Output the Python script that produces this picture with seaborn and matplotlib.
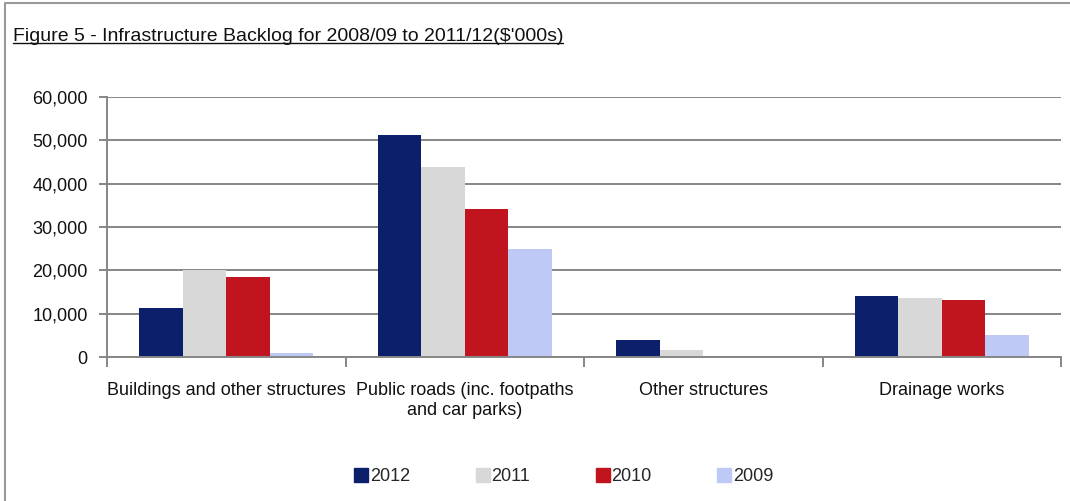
import matplotlib
matplotlib.use("Agg")
import matplotlib.pyplot as plt
from matplotlib.lines import Line2D
from matplotlib.ticker import FuncFormatter, FixedLocator
import seaborn as sns
import pandas as pd

# Backlog by asset class ($'000s)
categories = [
    "Buildings and other structures",
    "Public roads (inc. footpaths\nand car parks)",
    "Other structures",
    "Drainage works",
]
years = ["2012", "2011", "2010", "2009"]
values_2012 = [11400, 51100, 3900, 14100]
values_2011 = [20100, 43900, 1700, 13700]
values_2010 = [18600, 34100, 0, 13300]
values_2009 = [900, 25000, 0, 5100]
colors = ["#0c1f6b", "#d8d8d8", "#c0141e", "#bfc9f5"]

series = [values_2012, values_2011, values_2010, values_2009]
rows = []
for year, vals in zip(years, series):
    for cat, v in zip(categories, vals):
        rows.append({"Category": cat, "Year": year, "Backlog": v})
df = pd.DataFrame(rows)

sns.set_theme(style="white")
plt.rcParams["font.family"] = ["Liberation Sans Narrow", "Liberation Sans", "DejaVu Sans"]

fig = plt.figure(figsize=(10.70, 5.01), dpi=100)
ax = fig.add_axes([0.1, 0.2868, 0.8916, 0.5202])

sns.barplot(
    data=df, x="Category", y="Backlog", hue="Year",
    order=categories, hue_order=years, palette=colors,
    width=0.73, saturation=1, gap=0, ax=ax, legend=False,
    edgecolor="none", linewidth=0,
)

ax.set_xlim(-0.5, len(categories) - 0.5)
ax.set_ylim(0, 60000)
ax.set_yticks(range(0, 60001, 10000))
ax.yaxis.set_major_formatter(FuncFormatter(lambda v, p: f"{int(v):,}"))
ax.grid(axis="y", color="#868686", linewidth=1.4)
ax.set_axisbelow(True)

for side in ["top", "right"]:
    ax.spines[side].set_visible(False)
for side in ["left", "bottom"]:
    ax.spines[side].set_color("#868686")
    ax.spines[side].set_linewidth(1.4)

ax.set_xlabel("")
ax.set_ylabel("")
ax.tick_params(axis="y", which="major", left=True, length=6, width=1.4,
               color="#868686", labelsize=13, pad=8, labelcolor="#111111")
ax.tick_params(axis="x", which="major", bottom=False, labelsize=13, pad=12,
               labelcolor="#111111")
ax.xaxis.set_minor_locator(FixedLocator([i - 0.5 for i in range(len(categories) + 1)]))
ax.tick_params(axis="x", which="minor", bottom=True, length=7, width=1.4,
               color="#868686")

# Legend along the bottom
handles = [Line2D([0], [0], marker="s", linestyle="none", markersize=10,
                  markerfacecolor=c, markeredgecolor=c) for c in colors]
fig.legend(handles, years, loc="center", bbox_to_anchor=(0.526, 0.049), ncol=4,
           frameon=False, fontsize=13, handletextpad=0.0, columnspacing=3.5,
           handlelength=1.0)

# Title, underlined
title = fig.text(0.012, 0.928, "Figure 5 - Infrastructure Backlog for 2008/09 to 2011/12($'000s)",
                 fontsize=14, ha="left", va="center", color="#111111")
fig.canvas.draw()
bb = title.get_window_extent().transformed(fig.transFigure.inverted())
fig.add_artist(Line2D([bb.x0, bb.x1], [bb.y0 + 0.004, bb.y0 + 0.004],
                      transform=fig.transFigure, color="#111111", linewidth=1.0))

# Outer frame (left and top edges)
fig.add_artist(Line2D([0.0045, 0.0045, 1.0], [0.0, 0.9947, 0.9947],
                      transform=fig.transFigure, color="#9a9a9a", linewidth=1.5))

fig.savefig("out.png", dpi=100)
